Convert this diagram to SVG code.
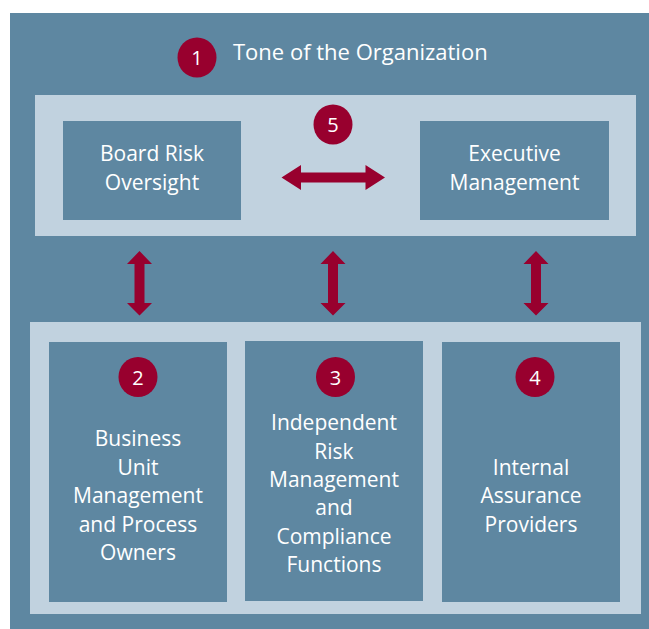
<svg xmlns="http://www.w3.org/2000/svg" width="649" height="629" viewBox="0 0 649 629">
  <defs>
    <style>
      .bg { fill: #5e87a1; }
      .panel { fill: #c1d2df; }
      .box { fill: #5e87a1; }
      .badge { fill: #98002e; }
      .arrow { fill: #98002e; }
      .num { font-family: "Open Sans", "Noto Sans", sans-serif; font-size: 20px; fill: #ffffff; text-anchor: middle; }
      .lbl { font-family: "Open Sans", "Noto Sans", sans-serif; font-size: 21px; fill: #ffffff; text-anchor: middle; }
      .title { font-family: "Open Sans", "Noto Sans", sans-serif; font-size: 22px; fill: #ffffff; }
    </style>
  </defs>

  <!-- outer field -->
  <rect class="bg" x="10" y="13" width="639" height="616"/>

  <!-- tone of the organization -->
  <g id="tone">
    <ellipse class="badge" cx="197" cy="57.5" rx="19.5" ry="20"/>
    <text class="num" x="197" y="65">1</text>
    <text class="title" x="233" y="60">Tone of the Organization</text>
  </g>

  <!-- governance panel -->
  <g id="governance">
    <rect class="panel" x="35" y="95" width="601" height="141"/>
  </g>
  <g id="board">
    <rect class="box" x="63" y="121" width="178" height="99"/>
    <text class="lbl" x="152" y="161">Board Risk</text>
    <text class="lbl" x="152" y="190">Oversight</text>
  </g>
  <g id="executive">
    <rect class="box" x="420" y="121" width="189" height="99"/>
    <text class="lbl" x="514.5" y="161">Executive</text>
    <text class="lbl" x="514.5" y="190">Management</text>
  </g>
  <g id="badge5">
    <ellipse class="badge" cx="333" cy="124.5" rx="19.5" ry="20"/>
    <text class="num" x="333" y="132">5</text>
  </g>

  <!-- operating panel -->
  <g id="operations">
    <rect class="panel" x="30" y="322" width="611" height="292"/>
  </g>
  <g id="business">
    <rect class="box" x="49" y="342" width="178" height="260"/>
    <ellipse class="badge" cx="138" cy="377" rx="19.5" ry="20"/>
    <text class="num" x="138" y="384.5">2</text>
    <text class="lbl" x="138" y="446">Business</text>
    <text class="lbl" x="138" y="474.5">Unit</text>
    <text class="lbl" x="138" y="503">Management</text>
    <text class="lbl" x="138" y="531.5">and Process</text>
    <text class="lbl" x="138" y="560">Owners</text>
  </g>
  <g id="independent">
    <rect class="box" x="245" y="341" width="178" height="260"/>
    <ellipse class="badge" cx="335.5" cy="377" rx="19.5" ry="20"/>
    <text class="num" x="335.5" y="384.5">3</text>
    <text class="lbl" x="334" y="430">Independent</text>
    <text class="lbl" x="334" y="458.5">Risk</text>
    <text class="lbl" x="334" y="487">Management</text>
    <text class="lbl" x="334" y="515">and</text>
    <text class="lbl" x="334" y="543.5">Compliance</text>
    <text class="lbl" x="334" y="572">Functions</text>
  </g>
  <g id="assurance">
    <rect class="box" x="442" y="342" width="178" height="260"/>
    <ellipse class="badge" cx="535" cy="377" rx="19.5" ry="20"/>
    <text class="num" x="535" y="384.5">4</text>
    <text class="lbl" x="531" y="474.5">Internal</text>
    <text class="lbl" x="531" y="503">Assurance</text>
    <text class="lbl" x="531" y="531.5">Providers</text>
  </g>

  <!-- double-headed connectors -->
  <g id="connectors">
    <path class="arrow" d="M281.5 177.5 L301 165 L301 172.5 L365.5 172.5 L365.5 165 L385 177.5 L365.5 190 L365.5 182.5 L301 182.5 L301 190 Z"/>
    <path class="arrow" d="M139.5 251 L152 264 L144.5 264 L144.5 303 L152 303 L139.5 315.5 L127 303 L134.5 303 L134.5 264 L127 264 Z"/>
    <path class="arrow" d="M333 251 L345.5 264 L338 264 L338 303 L345.5 303 L333 315.5 L320.5 303 L328 303 L328 264 L320.5 264 Z"/>
    <path class="arrow" d="M536 251 L548.5 264 L541 264 L541 303 L548.5 303 L536 315.5 L523.5 303 L531 303 L531 264 L523.5 264 Z"/>
  </g>
</svg>
